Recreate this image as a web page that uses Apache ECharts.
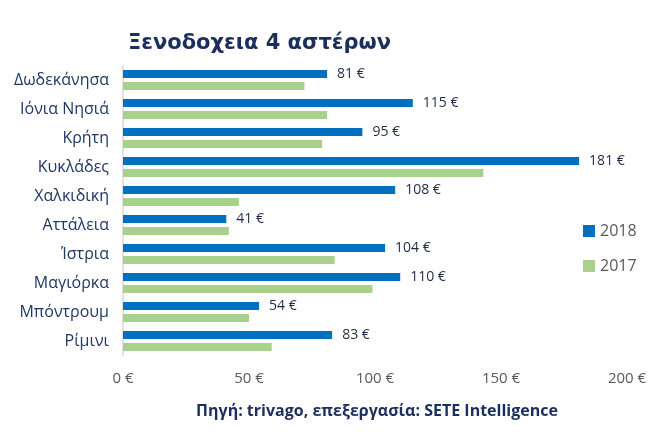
<!DOCTYPE html>
<html><head><meta charset="utf-8">
<script src="https://cdn.jsdelivr.net/npm/echarts@6/dist/echarts.min.js"></script>
<style>html,body{margin:0;padding:0;background:#fff}#c{width:654px;height:443px}</style>
</head><body><div id="c"></div>
<script>
const categories = ['Δωδεκάνησα','Ιόνια Νησιά','Κρήτη','Κυκλάδες','Χαλκιδική','Αττάλεια','Ίστρια','Μαγιόρκα','Μπόντρουμ','Ρίμινι'];
const values2018 = [81,115,95,181,108,41,104,110,54,83];
const values2017 = [72,81,79,143,46,42,84,99,50,59];
const xTicks = [0,50,100,150,200];

const chart = echarts.init(document.getElementById('c'));
chart.setOption({
  animation:false,
  title:[{text:'Ξενοδοχεια 4 αστέρων', left:123, top:28,
    textStyle:{fontFamily:'DejaVu Sans', fontWeight:'bold', fontSize:21, color:'#1A2F5E'}},
    {text:'Πηγή: trivago, επεξεργασία: SETE Intelligence', left:372, textAlign:'center', top:398,
    textStyle:{fontFamily:'Open Sans', fontWeight:'bold', fontSize:16, color:'#1A2F5E'}}],
  legend:{orient:'vertical', left:578, top:218, itemWidth:12, itemHeight:12, itemGap:19,
    icon:'rect', textStyle:{fontFamily:'Open Sans', fontSize:16, color:'#595959'},
    data:['2018','2017']},
  grid:{left:123, right:27, top:65.5, bottom:87.5, containLabel:false},
  xAxis:{type:'value', min:0, max:200, interval:50,
    axisLine:{show:false}, axisTick:{show:false}, splitLine:{show:false},
    axisLabel:{margin:16, formatter:v=>xTicks.includes(v)? v+' €':'', fontFamily:'Open Sans', fontSize:15, color:'#595959'}},
  yAxis:{type:'category', inverse:true, data:categories,
    axisLine:{lineStyle:{color:'#D9D9D9', width:1.5}}, axisTick:{show:false},
    axisLabel:{margin:14, fontFamily:'Open Sans', fontSize:16, color:'#1F3864'}},
  series:[
    {name:'2018', type:'bar', data:values2018, barWidth:8, barGap:'50%',
      itemStyle:{color:'#0070C0'},
      label:{show:true, position:'right', distance:10, formatter:p=>p.value+' €',
        fontFamily:'Open Sans', fontSize:14, color:'#1F2A44'}},
    {name:'2017', type:'bar', data:values2017, barWidth:8,
      itemStyle:{color:'#A9D18E'}}
  ]
});
</script></body></html>
